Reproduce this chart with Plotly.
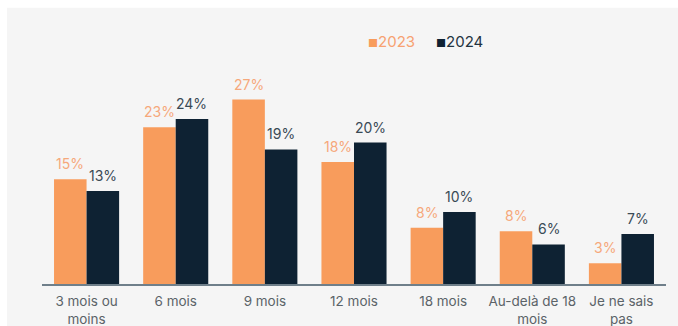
import plotly.graph_objects as go

categories = ["3 mois ou<br>moins", "6 mois", "9 mois", "12 mois", "18 mois",
              "Au-delà de 18<br>mois", "Je ne sais<br>pas"]
series_names = ["2023", "2024"]
values_2023 = [15.1, 22.6, 26.6, 17.6, 8.1, 7.6, 3.0]
values_2024 = [13.4, 23.8, 19.4, 20.4, 10.4, 5.7, 7.2]

bar_colors = ["#F89C5C", "#0E2233"]
label_colors = ["#F6A87B", "#3A4A55"]
legend_text_colors = ["#F7A171", "#23333F"]
FONT = "Inter, Lato, sans-serif"

fig = go.Figure()
for name, vals, col in zip(series_names, [values_2023, values_2024], bar_colors):
    fig.add_trace(go.Bar(x=categories, y=vals, name=name, marker_color=col,
                         marker_line_width=0, showlegend=False))

# data labels
W, H = 678, 326
ml, mr, mt, mb = 42, 12, 75.5, 42
plot_w = W - ml - mr
step = plot_w / len(categories)
bargap = 0.27
half_bar = step * (1 - bargap) / 4
for vals, lc, sgn in zip([values_2023, values_2024], label_colors, [-1, 1]):
    for c, v in zip(categories, vals):
        fig.add_annotation(x=c, y=v, text=f"{round(v)}%", showarrow=False,
                           xshift=sgn * half_bar, yanchor="bottom", yshift=5,
                           font=dict(family=FONT, size=14, color=lc))

# legend as annotations
for i, (name, bc, tc) in enumerate(zip(series_names, bar_colors, legend_text_colors)):
    fig.add_annotation(xref="paper", yref="paper",
                       x=(366 + i * 68 - ml) / plot_w, y=(284 - 41) / (284 - mt),
                       xanchor="left", yanchor="middle", showarrow=False,
                       text=f"<span style='color:{bc};font-size:11px'>■</span>"
                            f"<span style='color:{tc}'>{name}</span>",
                       font=dict(family=FONT, size=15, color=tc))

# grey panel
fig.add_shape(type="rect", xref="paper", yref="paper", layer="below",
              x0=(7 - ml) / plot_w, x1=(W - ml) / plot_w,
              y0=(284 - H) / (284 - mt), y1=(284 - 7) / (284 - mt),
              fillcolor="#F5F5F5", line_width=0)

fig.update_layout(
    width=W, height=H, margin=dict(l=ml, r=mr, t=mt, b=mb, autoexpand=False),
    paper_bgcolor="white", plot_bgcolor="#F5F5F5",
    barmode="group", bargap=bargap, bargroupgap=0,
    font=dict(family=FONT, size=13, color="#5B6368"),
)
fig.update_xaxes(showline=True, linecolor="#6F7F8A", linewidth=1.5, automargin=False,
                 showgrid=False, ticks="outside", ticklen=4, tickcolor="rgba(0,0,0,0)",
                 tickfont=dict(size=13.5, color="#5B6368"))
fig.update_yaxes(range=[0, 30], visible=False, showgrid=False)

fig.write_html("out.html")
